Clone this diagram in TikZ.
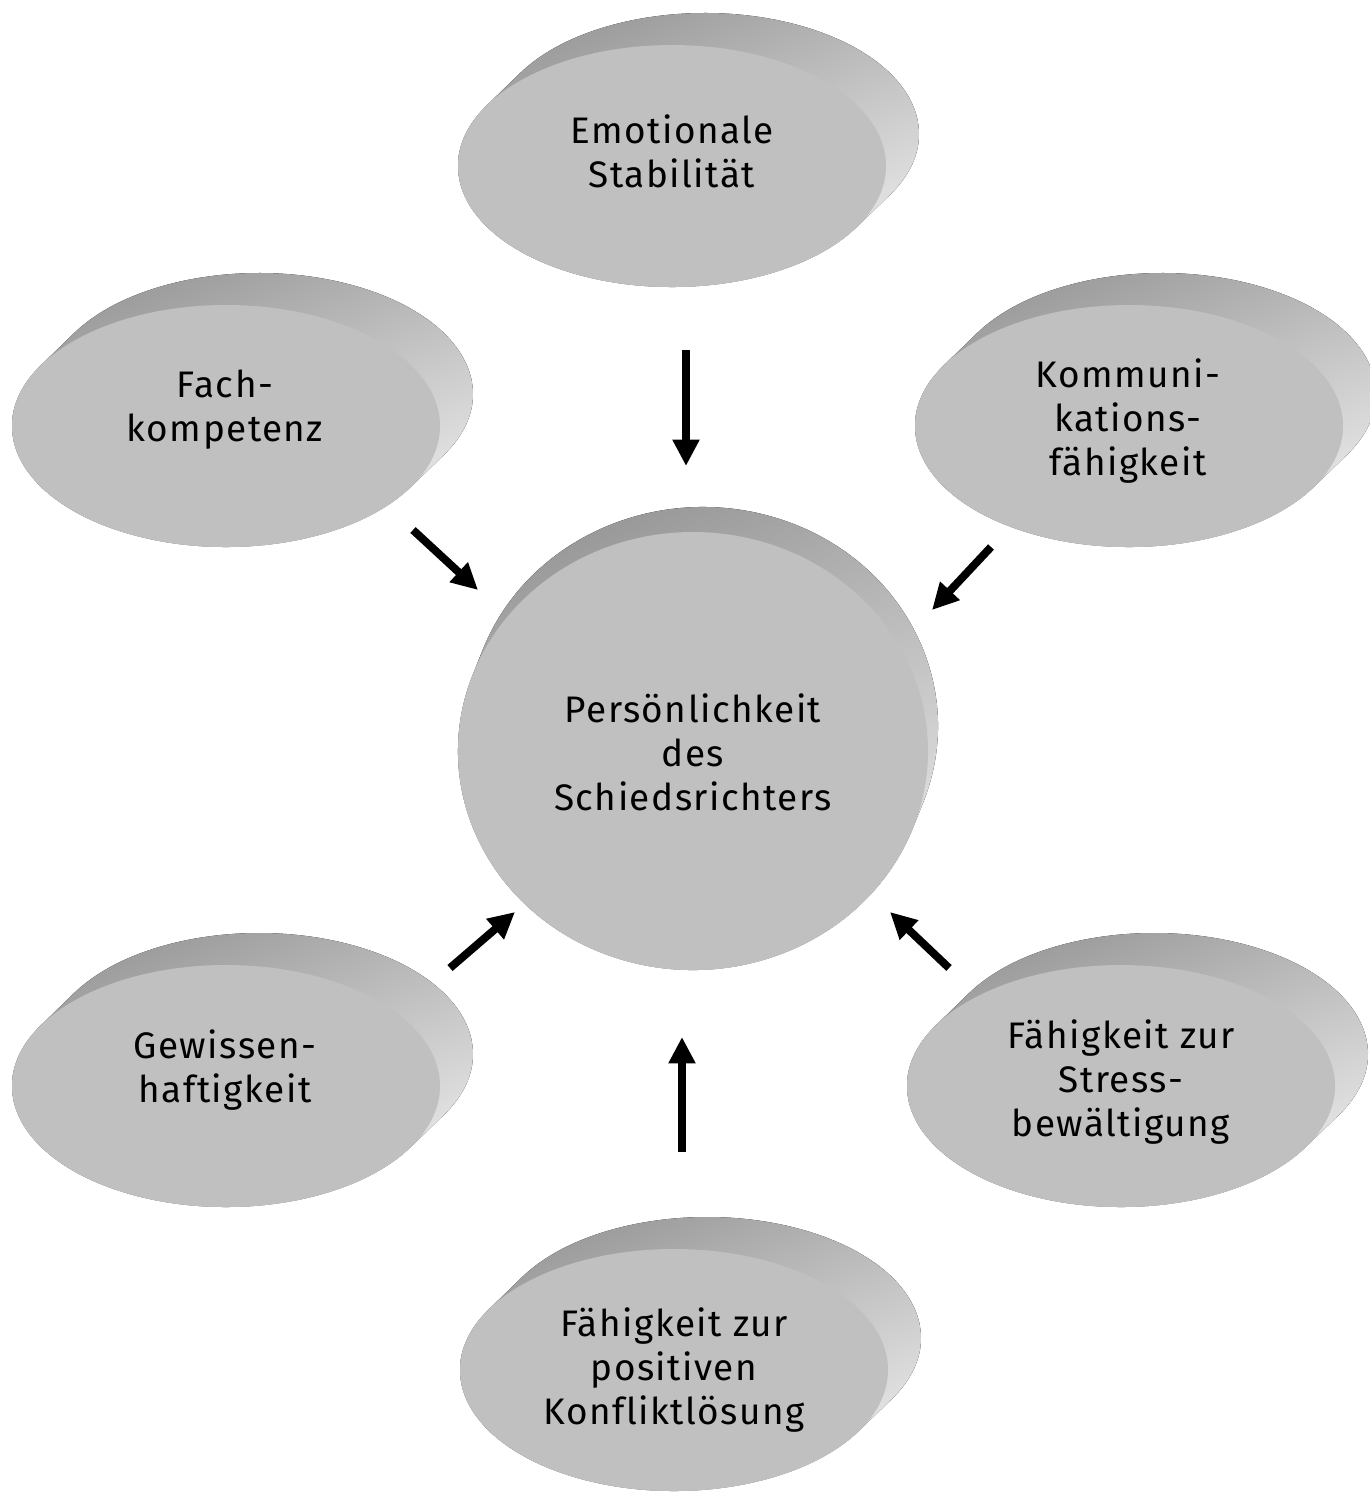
\documentclass[tikz,border=0pt]{standalone}
\usepackage{xcolor}
\usepackage{fontspec}
\setmainfont[LetterSpace=4,Ligatures=NoCommon]{Fira Sans}
\usetikzlibrary{shapes.geometric,arrows.meta}

\definecolor{discgray}{HTML}{C0C0C0}

% side of a small disc, front face centred at (#1,#2)
\newcommand{\discside}[2]{%
  \fill[discback] (#1+0.66,#2+0.64) ++(-30.3:4.28 and 2.42)
    arc[start angle=-30.3, end angle=149.7, x radius=4.28, y radius=2.42]
    -- ++(-0.66,-0.64)
    arc[start angle=149.7, end angle=329.7, x radius=4.28, y radius=2.42] -- cycle;}

\begin{document}
\begin{tikzpicture}[
    disc/.style={ellipse, fill=discgray, inner sep=0pt,
                 minimum width=8.56cm, minimum height=4.84cm},
    discback/.style={top color=black!42, bottom color=black!6, shading angle=22},
    txt/.style={align=center, font=\fontsize{21}{25}\selectfont, inner sep=0pt},
    arr/.style={line width=4.5pt, -{Triangle[length=15pt,width=14.5pt]}}
  ]
                \useasboundingbox (0,0) rectangle (27.38,-29.84);

                % sides of the discs
                \discside{13.44}{-3.32}
                \discside{4.52}{-8.52}
                \discside{22.58}{-8.52}
                \discside{4.52}{-21.72}
                \discside{22.42}{-21.72}
                \discside{13.48}{-27.40}
                \fill[discback] (13.86+0.2,-15.02+0.5) ++(-20.4:4.7 and 4.38)
                    arc[start angle=-20.4, end angle=159.6, x radius=4.7, y radius=4.38]
                    -- ++(-0.2,-0.5)
                    arc[start angle=159.6, end angle=339.6, x radius=4.7, y radius=4.38] -- cycle;

                % faces
                \node[disc] (emo) at (13.44,-3.32) {};
                \node[disc] (fach) at (4.52,-8.52) {};
                \node[disc] (komm) at (22.58,-8.52) {};
                \node[disc, minimum width=9.4cm, minimum height=8.76cm] (pers) at (13.86,-15.02) {};
                \node[disc] (gew) at (4.52,-21.72) {};
                \node[disc] (stress) at (22.42,-21.72) {};
                \node[disc] (konf) at (13.48,-27.40) {};

                % texts
                \node[txt] (emo-t) at (13.44,-3.02) {Emotionale\\Stabilität};
                \node[txt] (fach-t) at (4.50,-8.20) {Fach-\\kompetenz};
                \node[txt] (komm-t) at (22.56,-8.42) {Kommuni-\\kations-\\fähigkeit};
                \node[txt] (pers-t) at (13.86,-15.04) {Persönlichkeit\\des\\Schiedsrichters};
                \node[txt] (gew-t) at (4.50,-21.40) {Gewissen-\\haftigkeit};
                \node[txt] (stress-t) at (22.42,-21.64) {Fähigkeit zur\\Stress-\\bewältigung};
                \node[txt] (konf-t) at (13.48,-27.40) {Fähigkeit zur\\positiven\\Konfliktlösung};

                % arrow ends
                \coordinate (emo-a) at (13.72,-7.00);
                \coordinate (emo-b) at (13.72,-9.32);
                \coordinate (fach-a) at (8.26,-10.60);
                \coordinate (fach-b) at (9.56,-11.80);
                \coordinate (komm-a) at (19.82,-10.94);
                \coordinate (komm-b) at (18.64,-12.20);
                \coordinate (gew-a) at (9.00,-19.36);
                \coordinate (gew-b) at (10.30,-18.24);
                \coordinate (stress-a) at (18.98,-19.36);
                \coordinate (stress-b) at (17.80,-18.24);
                \coordinate (konf-a) at (13.64,-23.04);
                \coordinate (konf-b) at (13.64,-20.74);

                \draw[arr] (emo-a) -- (emo-b);
                \draw[arr] (fach-a) -- (fach-b);
                \draw[arr] (komm-a) -- (komm-b);
                \draw[arr] (gew-a) -- (gew-b);
                \draw[arr] (stress-a) -- (stress-b);
                \draw[arr] (konf-a) -- (konf-b);
\end{tikzpicture}
\end{document}
